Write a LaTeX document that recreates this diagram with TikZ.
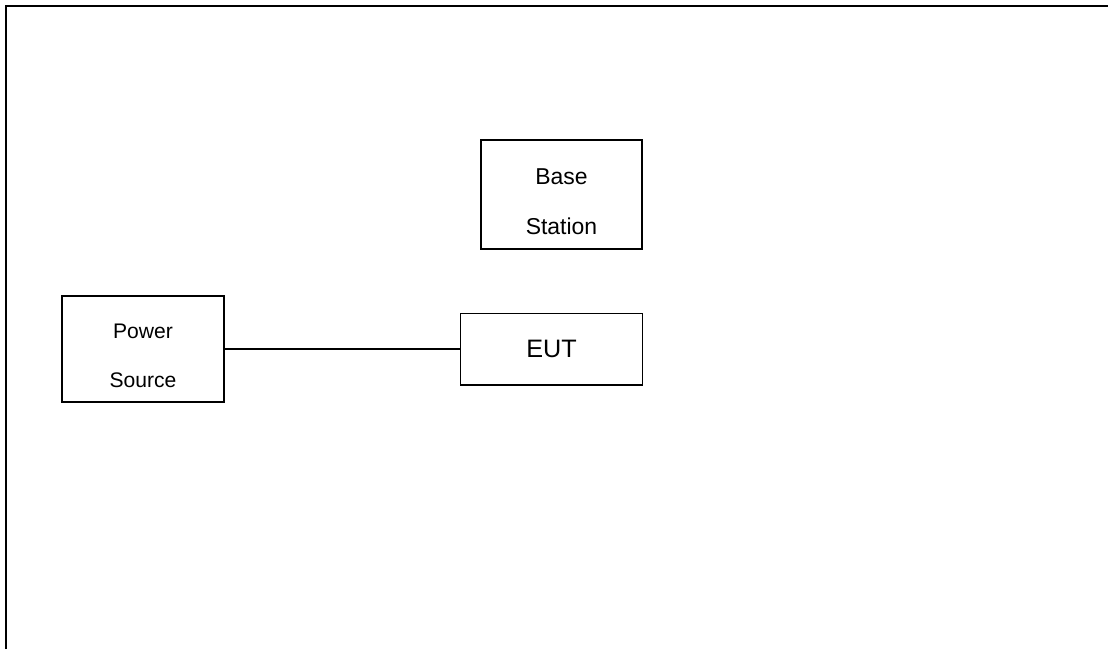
\documentclass[tikz,border=0pt]{standalone}
\usepackage{fontspec}
\setmainfont{Liberation Sans}
\begin{document}
\begin{tikzpicture}
[x=1.7cm,y=1.7cm,
 box/.style={draw,line width=0.6pt,inner sep=0pt,align=center},
 boxtext/.style={inner sep=0pt,align=center,yshift=-0.12cm}]
\useasboundingbox (0,0) rectangle (11.08,-6.49);
\draw[line width=1.4pt] (0.06,-6.49) -- (0.06,-0.06) -- (11.08,-0.06);

\node[box,minimum width=2.75cm,minimum height=1.8cm] (PS) at (1.43,-3.49) {};
\node[boxtext,font=\fontsize{10.2}{23.5}\selectfont] (PSt) at (PS.center) {Power\\Source};
\node[box,minimum width=2.74cm,minimum height=1.85cm] (BS) at (5.615,-1.945) {};
\node[boxtext,font=\fontsize{11.1}{24}\selectfont] (BSt) at (BS.center) {Base\\Station};
\node[box,minimum width=3.09cm,minimum height=1.22cm,font=\fontsize{12.2}{14}\selectfont] (EUT) at (5.515,-3.49) {EUT};

\draw[line width=0.6pt] (PS) -- (EUT);
\end{tikzpicture}
\end{document}
